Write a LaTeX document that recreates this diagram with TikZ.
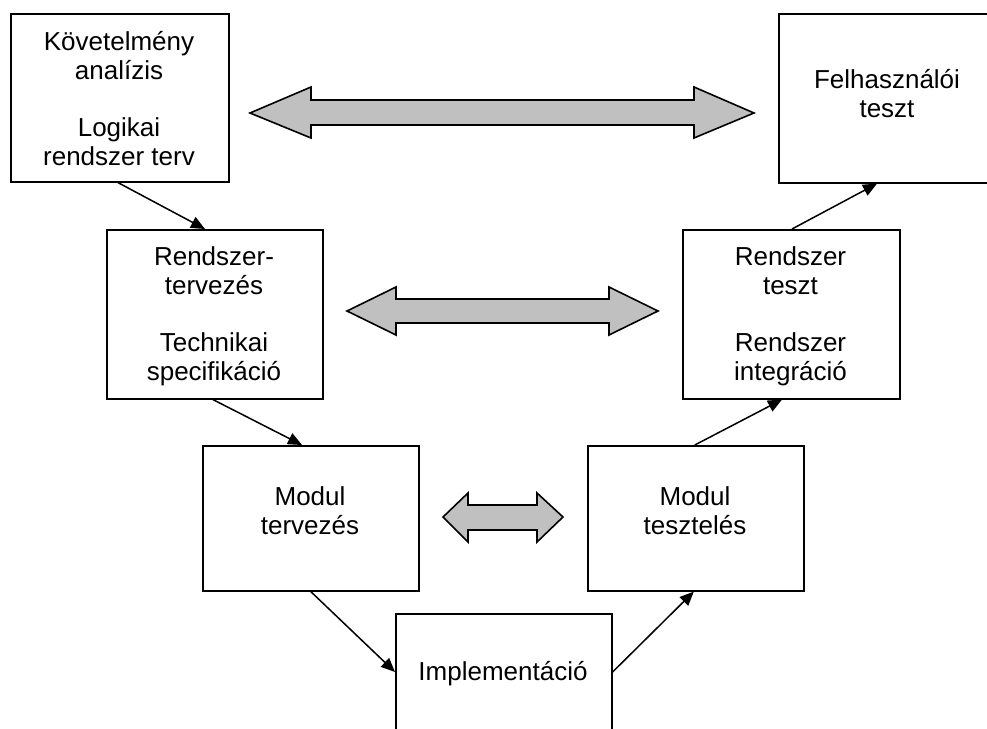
\documentclass[tikz,border=0pt]{standalone}
\usepackage{fontspec}
\setmainfont{Liberation Sans}
\usetikzlibrary{arrows.meta}
\definecolor{arrowgray}{RGB}{192,192,192}
\newcommand{\mystrut}{\rule{0pt}{25pt}}
\tikzset{
  box/.style={draw, line width=1.6pt, rectangle, anchor=north west, inner sep=0pt},
  txt/.style={anchor=north, inner sep=0pt, align=center, font=\fontsize{26}{29}\selectfont},
  conn/.style={line width=1.5pt, -{Triangle[length=14pt,width=12pt]}},
  bigarrow/.style={draw, line width=1.6pt, fill=arrowgray, line join=miter}
}
\begin{document}
\begin{tikzpicture}[x=1pt,y=-1pt]
\clip (0,0) rectangle (987,728);
\useasboundingbox (0,0) rectangle (987,728);
\fill[white] (0,0) rectangle (987,728);

% boxes
\node[box, minimum width=218pt, minimum height=168pt] (b1) at (10,13) {};
\node[box, minimum width=216pt, minimum height=169pt] (b2) at (106,229) {};
\node[box, minimum width=218pt, minimum height=169pt] (b3) at (778,13) {};
\node[box, minimum width=217pt, minimum height=169pt] (b4) at (682,229) {};
\node[box, minimum width=216pt, minimum height=145pt] (b5) at (202,445) {};
\node[box, minimum width=216pt, minimum height=145pt] (b6) at (587,445) {};
\node[box, minimum width=216pt, minimum height=140pt] (b7) at (395,613) {};

% texts
\node[txt] (t1) at (119,25) {\mystrut Követelmény\\analízis\\[28pt]Logikai\\rendszer terv};
\node[txt] (t2) at (214,240) {\mystrut Rendszer-\\tervezés\\[28pt]Technikai\\specifikáció};
\node[txt] (t3) at (887,63) {\mystrut Felhasználói\\teszt};
\node[txt] (t4) at (790.5,240) {\mystrut Rendszer\\teszt\\[28pt]Rendszer\\integráció};
\node[txt] (t5) at (310,480) {\mystrut Modul\\tervezés};
\node[txt] (t6) at (695,480) {\mystrut Modul\\tesztelés};
\node[txt] (t7) at (503,655) {\mystrut Implementáció};

% connectors
\draw[conn] ([xshift=108pt]b1.south west) -- ([xshift=99pt]b2.north west);
\draw[conn] ([xshift=107pt]b2.south west) -- ([xshift=100pt]b5.north west);
\draw[conn] (b5.south) -- ([yshift=-59pt]b7.north west);
\draw[conn] ([yshift=-59pt]b7.north east) -- ([xshift=-2pt]b6.south);
\draw[conn] ([xshift=-1pt]b6.north) -- ([xshift=100pt]b4.south west);
\draw[conn] ([xshift=110pt]b4.north west) -- ([xshift=99pt]b3.south west);

% double arrows
\draw[bigarrow] (250,113) -- (311,87) -- (311,100) -- (694,100) -- (694,87) -- (754,113)
  -- (694,138) -- (694,125) -- (311,125) -- (311,138) -- cycle;
\draw[bigarrow] (347,311) -- (396,287) -- (396,299) -- (609,299) -- (609,287) -- (658,311)
  -- (609,335) -- (609,323) -- (396,323) -- (396,335) -- cycle;
\draw[bigarrow] (443,517) -- (468,493) -- (468,505) -- (537,505) -- (537,493) -- (563,517)
  -- (537,542) -- (537,530) -- (468,530) -- (468,542) -- cycle;
\end{tikzpicture}
\end{document}
